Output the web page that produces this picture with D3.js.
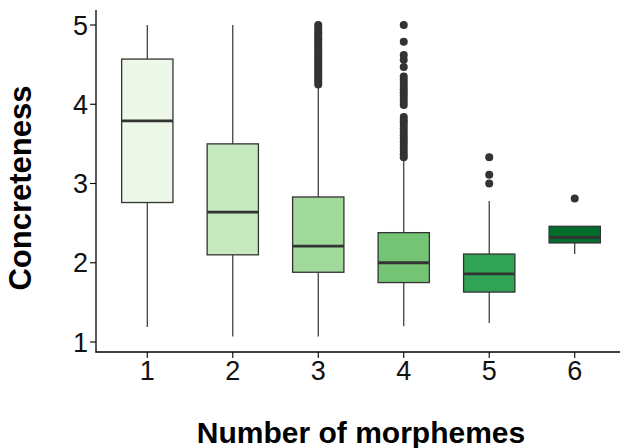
<!DOCTYPE html>
<html>
<head>
<meta charset="utf-8">
<script src="https://cdn.jsdelivr.net/npm/d3@7"></script>
<style>
  body { margin: 0; background: #fff; overflow: hidden; }
  svg { display: block; font-family: "Liberation Sans", Arial, sans-serif; }
</style>
</head>
<body>
<div id="chart"></div>
<script>
// categories and five-number summaries
const categories = ["1", "2", "3", "4", "5", "6"];
const whiskerLow  = [1.19, 1.07, 1.07, 1.20, 1.24, 2.11];
const q1          = [2.76, 2.10, 1.88, 1.75, 1.63, 2.25];
const medians     = [3.79, 2.64, 2.21, 2.00, 1.86, 2.32];
const q3          = [4.57, 3.50, 2.83, 2.38, 2.11, 2.46];
const whiskerHigh = [5.00, 5.00, 4.22, 3.30, 2.78, 2.46];
const outliers = [
  [],
  [],
  [4.25, 4.28, 4.31, 4.34, 4.37, 4.40, 4.43, 4.46, 4.49, 4.52, 4.55, 4.58, 4.61, 4.64,
   4.67, 4.70, 4.73, 4.76, 4.79, 4.82, 4.85, 4.88, 4.91, 4.94, 4.97, 5.00],
  [3.33, 3.37, 3.41, 3.45, 3.49, 3.53, 3.57, 3.61, 3.65, 3.69, 3.73, 3.77, 3.80, 3.84,
   3.99, 4.03, 4.07, 4.11, 4.15, 4.19, 4.23, 4.27, 4.31, 4.35, 4.47, 4.56, 4.62, 4.79, 5.00],
  [3.00, 3.11, 3.33],
  [2.81]
];
const colors = ["#edf8e9", "#c7e9c0", "#a1d99b", "#74c476", "#31a354", "#006d2c"];
const yTicks = [1, 2, 3, 4, 5];

const width = 620, height = 448;
const panel = {left: 96, right: 626, top: 10, bottom: 352};

const svg = d3.select("#chart").append("svg")
  .attr("width", width)
  .attr("height", height);

const x = d3.scaleBand()
  .domain(categories)
  .range([panel.left, panel.right])
  .paddingOuter(0.1);

// y(1)=342, y(5)=25 in the reference
const y = d3.scaleLinear()
  .domain([1, 5])
  .range([342, 25]);

const boxW = x.bandwidth() * 0.6;
const stroke = "#333333";

const data = categories.map((c, i) => ({
  cat: c, lo: whiskerLow[i], q1: q1[i], med: medians[i], q3: q3[i],
  hi: whiskerHigh[i], out: outliers[i], color: colors[i]
}));

const g = svg.append("g");

const box = g.selectAll(".box")
  .data(data)
  .enter().append("g")
  .attr("class", "box")
  .attr("transform", d => "translate(" + (x(d.cat) + x.bandwidth() / 2) + ",0)");

// whiskers
box.append("line")
  .attr("x1", 0).attr("x2", 0)
  .attr("y1", d => y(d.q3)).attr("y2", d => y(d.hi))
  .style("stroke", stroke).style("stroke-width", 1.2);
box.append("line")
  .attr("x1", 0).attr("x2", 0)
  .attr("y1", d => y(d.q1)).attr("y2", d => y(d.lo))
  .style("stroke", stroke).style("stroke-width", 1.2);

// boxes
box.append("rect")
  .attr("x", -boxW / 2)
  .attr("width", boxW)
  .attr("y", d => y(d.q3))
  .attr("height", d => y(d.q1) - y(d.q3))
  .style("fill", d => d.color)
  .style("stroke", stroke)
  .style("stroke-width", 1.3);

// medians
box.append("line")
  .attr("x1", -boxW / 2).attr("x2", boxW / 2)
  .attr("y1", d => y(d.med)).attr("y2", d => y(d.med))
  .style("stroke", stroke).style("stroke-width", 2.8);

// outliers
box.selectAll(".outlier")
  .data(d => d.out)
  .enter().append("circle")
  .attr("class", "outlier")
  .attr("cx", 0)
  .attr("cy", d => y(d))
  .attr("r", 4)
  .style("fill", stroke);

// axes
const axisColor = "#000";
const yAxis = svg.append("g");
yAxis.append("line")
  .attr("x1", panel.left).attr("x2", panel.left)
  .attr("y1", panel.top).attr("y2", panel.bottom + 0.5)
  .style("stroke", axisColor).style("stroke-width", 1.3);
yAxis.selectAll(".tick")
  .data(yTicks)
  .enter().append("line")
  .attr("x1", panel.left - 6).attr("x2", panel.left)
  .attr("y1", d => y(d)).attr("y2", d => y(d))
  .style("stroke", axisColor).style("stroke-width", 1.1);
yAxis.selectAll(".lab")
  .data(yTicks)
  .enter().append("text")
  .attr("x", panel.left - 8)
  .attr("y", d => y(d))
  .attr("dy", "0.36em")
  .attr("text-anchor", "end")
  .style("font-size", "27px")
  .style("fill", "#111")
  .text(d => d);

const xAxis = svg.append("g");
xAxis.append("line")
  .attr("x1", panel.left - 0.5).attr("x2", width)
  .attr("y1", panel.bottom).attr("y2", panel.bottom)
  .style("stroke", axisColor).style("stroke-width", 1.3);
xAxis.selectAll(".tick")
  .data(categories)
  .enter().append("line")
  .attr("x1", d => x(d) + x.bandwidth() / 2).attr("x2", d => x(d) + x.bandwidth() / 2)
  .attr("y1", panel.bottom).attr("y2", panel.bottom + 6)
  .style("stroke", axisColor).style("stroke-width", 1.1);
xAxis.selectAll(".lab")
  .data(categories)
  .enter().append("text")
  .attr("x", d => x(d) + x.bandwidth() / 2)
  .attr("y", 380)
  .attr("text-anchor", "middle")
  .style("font-size", "27px")
  .style("fill", "#111")
  .text(d => d);

// axis titles
svg.append("text")
  .attr("x", 361)
  .attr("y", 443)
  .attr("text-anchor", "middle")
  .style("font-size", "30px")
  .style("font-weight", "bold")
  .text("Number of morphemes");

svg.append("text")
  .attr("transform", "translate(31,188) rotate(-90)")
  .attr("text-anchor", "middle")
  .style("font-size", "31px")
  .style("font-weight", "bold")
  .text("Concreteness");
</script>
</body>
</html>
